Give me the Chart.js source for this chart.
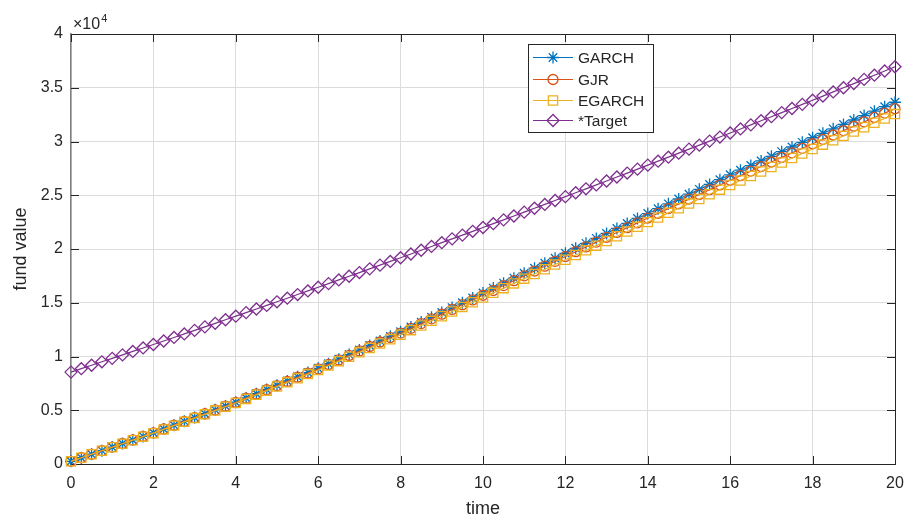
<!DOCTYPE html>
<html><head><meta charset="utf-8">
<script src="https://cdn.jsdelivr.net/npm/chart.js@4/dist/chart.umd.min.js"></script>
<style>html,body{margin:0;padding:0;background:#fff}#wrap{width:906px;height:516px;position:relative}</style>
</head><body><div id="wrap"><canvas id="c" width="906" height="516"></canvas></div>
<script>
const times = [0,0.25,0.5,0.75,1,1.25,1.5,1.75,2,2.25,2.5,2.75,3,3.25,3.5,3.75,4,4.25,4.5,4.75,5,5.25,5.5,5.75,6,6.25,6.5,6.75,7,7.25,7.5,7.75,8,8.25,8.5,8.75,9,9.25,9.5,9.75,10,10.25,10.5,10.75,11,11.25,11.5,11.75,12,12.25,12.5,12.75,13,13.25,13.5,13.75,14,14.25,14.5,14.75,15,15.25,15.5,15.75,16,16.25,16.5,16.75,17,17.25,17.5,17.75,18,18.25,18.5,18.75,19,19.25,19.5,19.75,20];
const garch = [250,581,913,1244,1575,1906,2238,2569,2900,3256,3613,3969,4325,4681,5038,5394,5750,6144,6538,6931,7325,7719,8113,8506,8900,9325,9750,10175,10600,11025,11450,11875,12300,12750,13200,13650,14100,14550,15000,15450,15900,16363,16825,17288,17750,18213,18675,19138,19600,20063,20525,20988,21450,21913,22375,22838,23300,23750,24200,24650,25100,25550,26000,26450,26900,27331,27763,28194,28625,29056,29488,29919,30350,30763,31175,31588,32000,32413,32825,33238,33650];
const gjr = [250,581,913,1244,1575,1906,2238,2569,2900,3255,3611,3965,4320,4675,5030,5385,5740,6129,6518,6906,7295,7684,8073,8461,8850,9266,9683,10099,10515,10931,11348,11764,12180,12620,13060,13500,13940,14380,14820,15260,15700,16150,16600,17050,17500,17950,18400,18850,19300,19748,20195,20643,21090,21538,21985,22433,22880,23320,23760,24200,24640,25080,25520,25960,26400,26824,27248,27672,28095,28519,28943,29367,29790,30198,30605,31013,31420,31828,32235,32643,33050];
const egarch = [250,577,905,1233,1560,1887,2215,2543,2870,3220,3570,3920,4270,4620,4970,5320,5670,6055,6440,6825,7210,7595,7980,8365,8750,9159,9568,9976,10385,10794,11203,11611,12020,12453,12885,13318,13750,14183,14615,15048,15480,15920,16360,16800,17240,17680,18120,18560,19000,19438,19875,20313,20750,21188,21625,22063,22500,22931,23363,23794,24225,24656,25088,25519,25950,26369,26788,27207,27625,28044,28463,28882,29300,29707,30113,30519,30925,31332,31738,32144,32550];
const target = [8550,8868,9187,9507,9828,10149,10472,10795,11120,11445,11772,12099,12428,12757,13087,13418,13750,14083,14417,14752,15088,15424,15762,16100,16440,16780,17122,17464,17808,18152,18497,18843,19190,19538,19887,20237,20588,20939,21292,21645,22000,22355,22712,23069,23428,23787,24147,24508,24870,25233,25597,25962,26328,26694,27062,27430,27800,28170,28542,28914,29288,29662,30037,30413,30790,31168,31547,31927,32308,32689,33072,33455,33840,34225,34612,34999,35388,35777,36167,36558,36950];
const seriesNames = ['GARCH','GJR','EGARCH','*Target'];
const xTickLabels = ['0','2','4','6','8','10','12','14','16','18','20'];
const yTickLabels = ['0','0.5','1','1.5','2','2.5','3','3.5','4'];
const xTitle = 'time';
const yTitle = 'fund value';
const yExponent = '4';

const TXT = '#262626';
const FONT = '"Liberation Sans", Arial, Helvetica, sans-serif';
const styles = [
  {color:'#0072BD', pointStyle:'star', radius:6},
  {color:'#D95319', pointStyle:'circle', radius:5},
  {color:'#EDB120', pointStyle:'rect', radius:6.5},
  {color:'#7E2F8E', pointStyle:'rectRot', radius:6}
];
const seriesData = [garch, gjr, egarch, target];

const datasets = seriesData.map((arr, i) => ({
  label: seriesNames[i],
  data: arr.map((v, k) => ({x: times[k], y: v})),
  borderColor: styles[i].color,
  backgroundColor: 'rgba(0,0,0,0)',
  pointBackgroundColor: 'rgba(0,0,0,0)',
  pointBorderColor: styles[i].color,
  pointStyle: styles[i].pointStyle,
  pointRadius: styles[i].radius,
  pointBorderWidth: 1.3,
  borderWidth: 1.2,
  tension: 0,
  clip: false,
  order: 4 - i
}));

const framePlugin = {
  id: 'frame',
  beforeDatasetsDraw(chart) {
    const {ctx, chartArea: a, scales: {x, y}} = chart;
    ctx.save();
    ctx.strokeStyle = TXT;
    ctx.lineWidth = 1;
    const tl = 8;
    ctx.beginPath();
    x.ticks.forEach(t => {
      const px = Math.round(x.getPixelForValue(t.value)) + 0.5;
      ctx.moveTo(px, a.bottom); ctx.lineTo(px, a.bottom - tl);
      ctx.moveTo(px, a.top); ctx.lineTo(px, a.top + tl);
    });
    y.ticks.forEach(t => {
      const py = Math.round(y.getPixelForValue(t.value)) + 0.5;
      ctx.moveTo(a.left, py); ctx.lineTo(a.left + tl, py);
      ctx.moveTo(a.right, py); ctx.lineTo(a.right - tl, py);
    });
    ctx.stroke();
    ctx.beginPath();
    ctx.moveTo(Math.round(a.left), Math.round(a.top) + 0.5);
    ctx.lineTo(Math.round(a.right), Math.round(a.top) + 0.5);
    ctx.moveTo(Math.round(a.right) + 0.5, Math.round(a.top));
    ctx.lineTo(Math.round(a.right) + 0.5, Math.round(a.bottom));
    ctx.stroke();
    ctx.fillStyle = TXT;
    ctx.textBaseline = 'alphabetic';
    ctx.textAlign = 'left';
    ctx.font = '16px ' + FONT;
    ctx.fillText('\u00d710', a.left + 2, a.top - 5);
    const w = ctx.measureText('\u00d710').width;
    ctx.font = '11px ' + FONT;
    ctx.fillText(yExponent, a.left + 2 + w + 1, a.top - 12);
    ctx.restore();
  },
  afterDraw(chart) {
    const {ctx} = chart;
    ctx.save();
    const bx = 528.5, by = 44.5, bw = 125, bh = 88;
    ctx.fillStyle = '#fff';
    ctx.fillRect(bx, by, bw, bh);
    ctx.strokeStyle = TXT;
    ctx.lineWidth = 1;
    ctx.strokeRect(bx, by, bw, bh);
    const rows = [57, 79, 100, 120];
    ctx.font = '15.5px ' + FONT;
    ctx.textBaseline = 'middle';
    ctx.textAlign = 'left';
    chart.data.datasets.forEach((ds, i) => {
      const ry = rows[i] + 0.5;
      ctx.strokeStyle = styles[i].color;
      ctx.lineWidth = 1.2;
      ctx.beginPath();
      ctx.moveTo(533, ry); ctx.lineTo(573, ry);
      ctx.stroke();
      ctx.strokeStyle = styles[i].color;
      ctx.fillStyle = 'rgba(0,0,0,0)';
      ctx.lineWidth = 1.3;
      Chart.helpers.drawPoint(ctx, {pointStyle: styles[i].pointStyle, radius: styles[i].radius, rotation: 0, borderWidth: 1.3}, 553, ry);
      ctx.fillStyle = TXT;
      ctx.fillText(ds.label, 578, ry + 1);
    });
    ctx.restore();
  }
};

new Chart(document.getElementById('c'), {
  type: 'line',
  data: {datasets},
  options: {
    responsive: false,
    animation: false,
    devicePixelRatio: 1,
    layout: {padding: {left: 0, right: 11, top: 34, bottom: 0}},
    plugins: {legend: {display: false}, tooltip: {enabled: false}},
    scales: {
      x: {
        type: 'linear', min: 0, max: 20,
        ticks: {stepSize: 2, color: TXT, font: {size: 16, family: FONT}, padding: 10,
          maxRotation: 0, autoSkip: false,
          callback: (v) => xTickLabels[Math.round(v / 2)] },
        grid: {color: '#dcdcdc', drawTicks: false, lineWidth: 1},
        border: {color: TXT, width: 1},
        title: {display: true, text: xTitle, color: TXT, font: {size: 18, family: FONT, lineHeight: 1}, padding: {top: 0, bottom: -2}},
        afterFit: (s) => { s.height = 52; s.paddingLeft = 0; s.paddingRight = 0; }
      },
      y: {
        min: 0, max: 40000,
        ticks: {stepSize: 5000, color: TXT, font: {size: 16, family: FONT}, padding: 8,
          callback: (v) => yTickLabels[Math.round(v / 5000)] },
        grid: {color: '#dcdcdc', drawTicks: false, lineWidth: 1},
        border: {color: '#7f7f7f', width: 1.5},
        title: {display: true, text: yTitle, color: TXT, font: {size: 18, family: FONT, lineHeight: 1}, padding: {top: 12, bottom: 0}},
        afterFit: (s) => { s.width = 71; s.paddingTop = 0; s.paddingBottom = 0; }
      }
    }
  },
  plugins: [framePlugin]
});
</script>
</body></html>
